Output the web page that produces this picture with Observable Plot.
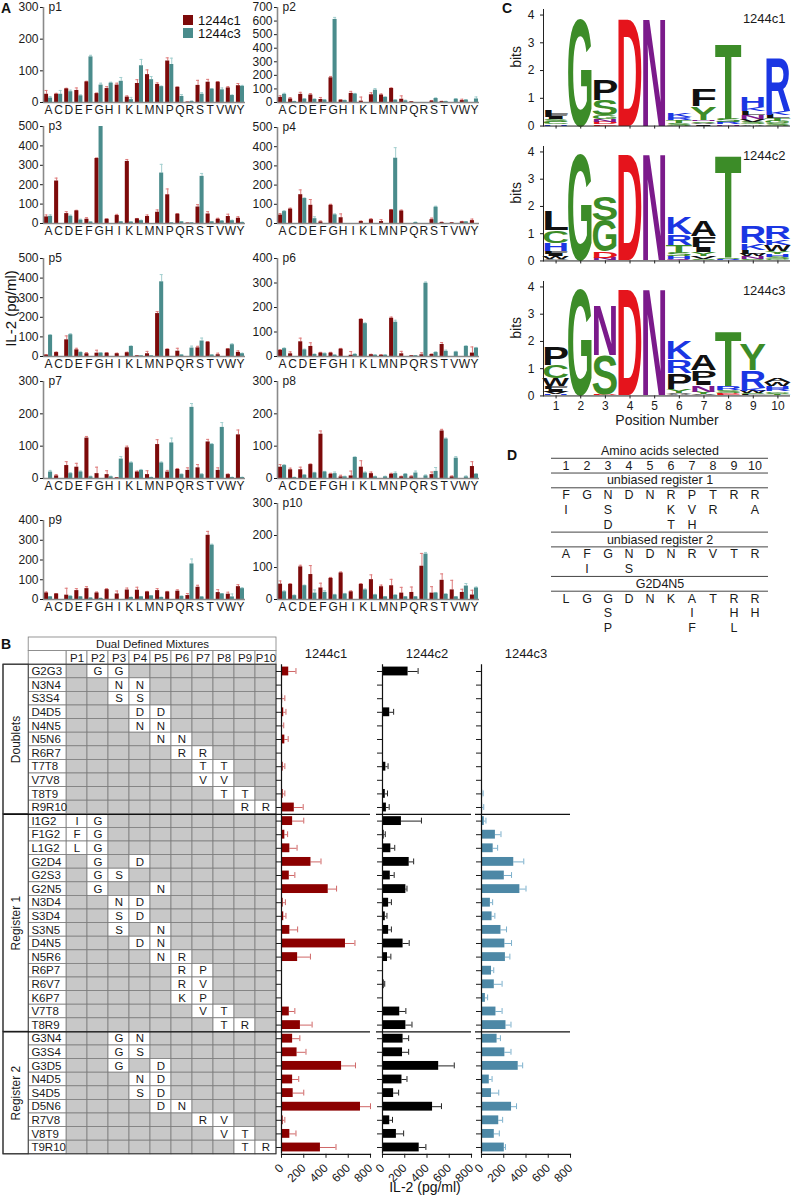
<!DOCTYPE html>
<html>
<head>
<meta charset="utf-8">
<script src="https://cdn.jsdelivr.net/npm/d3@7"></script>
<script src="https://cdn.jsdelivr.net/npm/@observablehq/plot@0.6"></script>
<style>
html,body{margin:0;padding:0;background:#fff;}
#root{position:relative;width:792px;height:1200px;overflow:hidden;font-family:"Liberation Sans",Arial,sans-serif;color:#111;}
#root svg{position:absolute;max-width:none;overflow:visible;}
.lbl{position:absolute;white-space:nowrap;line-height:1;}
</style>
</head>
<body>
<div id="root"></div>
<script>
// ================= DATA =================
// Panel A: IL-2 (pg/ml) per amino acid at each position p1..p10
const aminoAcids = ["A","C","D","E","F","G","H","I","K","L","M","N","P","Q","R","S","T","V","W","Y"];
const panelNames = ["p1","p2","p3","p4","p5","p6","p7","p8","p9","p10"];
const panelMax = [300,700,500,500,500,400,300,300,400,300];
const c1Values = [
  [26,26,43,38,65,28,44,55,17,60,88,57,131,48,1,54,64,64,46,53],
  [38,26,60,55,22,182,17,67,10,57,55,103,24,5,0,10,7,0,14,0],
  [34,219,51,65,22,335,22,41,320,24,36,58,148,48,2,85,49,22,36,27],
  [44,75,150,95,8,95,30,0,10,20,10,70,65,0,0,20,5,3,8,15],
  [7,20,85,34,14,17,17,14,19,3,14,219,36,27,0,44,73,9,38,21],
  [25,11,60,41,14,14,30,5,151,7,5,156,11,3,7,8,49,0,0,14],
  [0,8,40,35,125,15,12,2,95,20,12,105,20,28,25,33,113,25,12,135],
  [35,27,27,43,137,13,5,8,35,15,0,13,5,5,0,12,147,5,0,37],
  [33,28,22,45,55,33,50,28,48,47,38,45,38,42,20,62,325,35,27,65],
  [48,47,102,78,36,66,83,24,47,62,40,43,20,22,104,20,60,30,22,14]
];
const c1Errors = [
  [12,3,2,8,2,2,6,6,4,12,15,5,10,1,1,16,9,2,4,7],
  [12,10,15,10,15,10,3,15,30,15,8,5,25,2,0,5,2,0,10,0],
  [10,15,10,3,8,3,2,6,10,2,8,12,30,3,1,12,12,5,12,8],
  [8,5,25,30,5,5,20,0,3,5,10,3,5,0,0,8,2,2,3,8],
  [2,3,20,8,6,15,2,3,3,1,12,10,3,15,0,8,3,8,2,8],
  [3,8,15,15,3,3,3,15,3,2,2,5,10,1,8,2,8,0,0,25],
  [0,4,12,12,5,20,12,1,5,3,12,15,5,3,8,10,8,8,2,15],
  [8,5,8,2,10,3,5,15,20,5,0,3,2,3,0,8,5,3,0,15],
  [5,2,35,10,10,5,5,15,10,15,3,10,3,7,10,10,20,15,10,10],
  [10,3,5,28,15,3,3,3,3,15,5,20,18,17,40,20,20,30,10,15]
];
const c3Values = [
  [14,26,34,21,144,55,61,67,9,116,72,50,120,19,3,26,42,40,22,51],
  [60,7,24,22,17,612,14,62,0,91,38,17,12,0,0,29,7,24,17,26],
  [37,0,37,17,7,500,0,8,7,14,0,260,3,8,3,243,8,12,14,5],
  [62,0,130,25,0,45,0,0,0,0,0,340,0,5,0,85,0,0,8,0],
  [108,0,111,20,0,17,0,0,51,3,3,381,0,7,43,79,7,0,60,14],
  [32,0,27,8,11,5,0,8,134,5,5,140,0,3,299,16,21,18,41,34],
  [20,0,15,20,5,0,5,60,48,25,3,48,110,12,220,12,105,158,3,3],
  [40,3,10,17,20,15,5,65,17,5,5,15,13,17,8,22,122,63,5,13],
  [13,0,15,13,7,5,0,0,10,13,18,10,0,15,180,12,275,28,13,55],
  [24,12,43,20,22,14,17,0,30,14,8,13,8,8,142,20,16,8,42,36]
];
const c3Errors = [
  [5,12,5,3,5,6,3,12,7,20,10,2,20,6,2,5,2,6,2,3],
  [8,2,5,5,5,15,3,5,0,12,3,3,5,0,0,5,2,5,5,15],
  [8,0,6,5,2,0,0,2,2,3,0,45,1,2,1,15,2,3,3,2],
  [5,0,3,10,0,5,0,0,0,0,0,55,0,2,0,5,0,0,2,0],
  [3,0,5,3,0,2,0,0,3,1,1,37,0,2,10,15,2,0,5,3],
  [3,0,3,2,3,2,0,3,3,2,2,8,0,1,5,3,5,3,3,3],
  [5,0,3,3,2,0,2,8,3,3,1,3,15,2,12,3,3,15,1,1],
  [3,1,2,2,2,5,2,2,3,2,2,5,2,6,3,12,3,5,3,2],
  [2,0,5,2,2,2,0,0,2,2,2,2,0,3,25,3,5,2,15,5],
  [3,2,2,10,5,2,2,0,3,2,1,2,1,1,5,2,2,1,8,3]
];
const legendA = ["1244c1","1244c3"];

// Panel B: dual defined mixtures
const doublets = ["G2G3","N3N4","S3S4","D4D5","N4N5","N5N6","R6R7","T7T8","V7V8","T8T9","R9R10"];
const register1 = ["I1G2","F1G2","L1G2","G2D4","G2S3","G2N5","N3D4","S3D4","S3N5","D4N5","N5R6","R6P7","R6V7","K6P7","V7T8","T8R9"];
const register2 = ["G3N4","G3S4","G3D5","N4D5","S4D5","D5N6","R7V8","V8T9","T9R10"];
const groupNames = ["Doublets","Register 1","Register 2"];
const cloneNames = ["1244c1","1244c2","1244c3"];
const il2c1 =    [65,0,10,20,5,30,2,15,0,15,115, 100,30,75,265,70,420,15,20,75,575,145,0,0,0,70,170, 100,140,540,100,105,710,15,75,350];
const il2c1Err = [65,0,20,20,15,30,0,15,0,15,80, 100,25,65,90,50,75,20,20,70,85,115,0,0,0,50,105, 65,80,125,55,95,90,15,55,140];
const il2c2 =    [230,0,0,65,0,5,0,30,0,25,35, 170,15,75,240,70,210,55,25,55,185,45,5,15,0,155,210, 185,180,505,175,100,450,65,125,330];
const il2c2Err = [90,0,0,35,0,0,0,20,0,20,25, 180,10,35,40,35,10,25,15,25,55,30,0,5,0,55,55, 50,55,140,45,45,80,25,65,60];
const il2c3 =    [2,5,2,3,2,2,0,5,0,10,10, 25,125,105,290,205,345,80,95,175,210,215,90,115,35,130,220, 140,210,330,70,90,270,155,115,205];
const il2c3Err = [0,0,0,0,0,0,0,0,0,5,10, 15,50,40,90,65,55,20,25,50,60,40,20,70,20,55,45, 30,55,40,25,65,45,35,45,10];
const bTicks = [0,200,400,600,800];

// Panel C: sequence logos, each column listed bottom -> top as [residue, bits]
const logo1244c1 = [
  [["H",0.06],["C",0.08],["S",0.08],["I",0.1],["F",0.1],["L",0.15]],
  [["G",3.95]],
  [["E",0.05],["D",0.07],["N",0.1],["G",0.15],["S",0.55],["P",0.75]],
  [["D",4.0]],
  [["N",4.0]],
  [["S",0.1],["T",0.1],["R",0.1],["K",0.12]],
  [["I",0.05],["V",0.05],["S",0.05],["N",0.05],["Y",0.5],["F",0.6]],
  [["N",0.05],["R",0.08],["S",0.12],["T",2.78]],
  [["A",0.05],["S",0.08],["V",0.1],["N",0.15],["L",0.15],["K",0.15],["H",0.4]],
  [["S",0.08],["G",0.08],["T",0.1],["L",0.12],["K",0.15],["R",1.95]]
];
const logo1244c2 = [
  [["V",0.05],["W",0.1],["I",0.1],["F",0.1],["H",0.3],["C",0.45],["L",0.75]],
  [["G",3.95]],
  [["N",0.08],["D",0.25],["G",1.15],["S",0.9]],
  [["D",4.0]],
  [["N",4.0]],
  [["Q",0.05],["H",0.1],["S",0.12],["T",0.3],["R",0.4],["K",0.65]],
  [["S",0.05],["V",0.1],["Y",0.15],["I",0.2],["F",0.4],["A",0.6]],
  [["R",0.05],["S",0.05],["T",3.88]],
  [["S",0.05],["N",0.1],["W",0.1],["L",0.15],["K",0.25],["R",0.65]],
  [["G",0.05],["S",0.08],["H",0.1],["Y",0.1],["W",0.25],["K",0.2],["R",0.5]]
];
const logo1244c3 = [
  [["H",0.05],["V",0.08],["I",0.1],["F",0.1],["W",0.3],["C",0.5],["P",0.7]],
  [["G",3.95]],
  [["D",0.05],["S",1.45],["N",1.85]],
  [["D",4.0]],
  [["N",4.0]],
  [["A",0.05],["V",0.05],["Y",0.12],["P",0.6],["R",0.5],["K",0.7]],
  [["V",0.05],["Y",0.08],["N",0.25],["I",0.15],["P",0.4],["A",0.6]],
  [["E",0.05],["D",0.05],["S",0.1],["R",0.15],["T",2.05]],
  [["L",0.05],["S",0.05],["W",0.08],["K",0.1],["R",0.65],["Y",1.0]],
  [["T",0.05],["S",0.05],["G",0.05],["R",0.1],["H",0.1],["W",0.15],["A",0.15]]
];
const logoTitles = ["1244c1","1244c2","1244c3"];

// Panel D: amino acids selected per position
const dPositions = [1,2,3,4,5,6,7,8,9,10];
const dSections = ["unbiased register 1","unbiased register 2","G2D4N5"];
const selectedReg1 = [["F","I"],["G"],["N","S","D"],["D"],["N"],["R","K","T"],["P","V","H"],["T","R"],["R"],["R","A"]];
const selectedReg2 = [["A"],["F","I"],["G"],["N","S"],["D"],["N"],["R"],["V"],["T"],["R"]];
const selectedG2D4N5 = [["L"],["G"],["G","S","P"],["D"],["N"],["K"],["A","I","F"],["T"],["R","H","L"],["R","H"]];

// ================= RENDER =================
const FONT = "Liberation Sans, Arial, Helvetica, sans-serif";
const root = document.getElementById("root");
function put(node, left, top) { node.style.left = left + "px"; node.style.top = top + "px"; root.appendChild(node); return node; }
function label(text, left, top, css) {
  const d = document.createElement("div"); d.className = "lbl"; d.textContent = text;
  Object.assign(d.style, css || {}); d.style.left = left + "px"; d.style.top = top + "px";
  root.appendChild(d); return d;
}
const baseStyle = {fontFamily: FONT, fontSize: "12px", background: "transparent", color: "#1a1a1a", overflow: "visible"};

// ---- Panel A ----
const A_C1 = "#7d0a0a", A_C1E = "#de7b7b", A_C3 = "#4a8c8c", A_C3E = "#a3cfcf";
const colLeft = [0, 234];
const frameA = [[7,102],[7,102],[126,223],[127,223],[258,356],[258,356],[381,478],[381,478],[520,599],[503,599]];
panelNames.forEach((name, i) => {
  const data = aminoAcids.map((aa, j) => ({aa, c1: c1Values[i][j], e1: c1Errors[i][j], c3: c3Values[i][j], e3: c3Errors[i][j]}));
  const [ft, fb] = frameA[i];
  const mt = 10, mb = 18, ml = 43, mr = 5, W = 250;
  const bw = (W - ml - mr) / aminoAcids.length;
  const svg = Plot.plot({
    width: W, height: (fb - ft) + mt + mb, marginTop: mt, marginBottom: mb, marginLeft: ml, marginRight: mr,
    style: baseStyle,
    x: {type: "band", domain: aminoAcids, padding: 0, round: false, label: null, tickSize: 0, tickPadding: 3},
    y: {domain: [0, panelMax[i]], ticks: d3.range(0, panelMax[i] + 1, 100), label: null, tickSize: 3, tickPadding: 2},
    marks: [
      Plot.ruleX(data.filter(d => d.e1 > 0), {x: "aa", y1: "c1", y2: d => d.c1 + d.e1, dx: -2, stroke: A_C1E}),
      Plot.tickY(data.filter(d => d.e1 > 0), {x: "aa", y: d => d.c1 + d.e1, insetLeft: 1.5, insetRight: 5.6, stroke: A_C1E}),
      Plot.ruleX(data.filter(d => d.e3 > 0), {x: "aa", y1: "c3", y2: d => d.c3 + d.e3, dx: 2, stroke: A_C3E}),
      Plot.tickY(data.filter(d => d.e3 > 0), {x: "aa", y: d => d.c3 + d.e3, insetLeft: 5.6, insetRight: 1.5, stroke: A_C3E}),
      Plot.barY(data, {x: "aa", y: "c1", fill: A_C1, insetLeft: 1, insetRight: 5.05}),
      Plot.barY(data, {x: "aa", y: "c3", fill: A_C3, insetLeft: 5.05, insetRight: 1}),
      Plot.ruleY([0], {stroke: "#8a8a8a", strokeWidth: 1.4}),
      Plot.ruleX([aminoAcids[0]], {dx: -bw / 2, y1: 0, y2: panelMax[i], stroke: "#8a8a8a", strokeWidth: 1.6}),
      Plot.text([name], {frameAnchor: "top-left", dx: 5, dy: -5, fontSize: 12})
    ]
  });
  put(svg, colLeft[i % 2], ft - mt);
});
// legend of panel A
[A_C1, A_C3].forEach((c, k) => {
  const sw = document.createElement("div");
  Object.assign(sw.style, {position: "absolute", width: "10px", height: "10px", background: c, left: "183px", top: (15 + 13 * k) + "px"});
  root.appendChild(sw);
  label(legendA[k], 198, 14 + 13 * k, {fontSize: "13px"});
});
label("IL-2 (pg/ml)", -45, 301, {fontSize: "15px", width: "110px", textAlign: "center", transform: "rotate(-90deg)"});

// ---- Panel B ----
const rowNames = doublets.concat(register1, register2);
let acc = 0;
const groups = [doublets, register1, register2].map((rows, gi) => { const o = {g: groupNames[gi], start: acc, end: acc + rows.length}; acc += rows.length; return o; });
const rows = rowNames.map((name, r) => ({name, r, defined: Object.fromEntries([...name.matchAll(/([A-Z])(\d+)/g)].map(m => [+m[2], m[1]]))}));
const pos10 = d3.range(1, 11);
const cells = rows.flatMap(row => pos10.map(k => ({r: row.r, k, aa: row.defined[k] || null})));
const ROW0 = 637, STEP = 13.6, tableTop = 630;
const grid = "#7d7d7d";
const tmt = ROW0 - tableTop;
const table = Plot.plot({
  width: 280, height: tmt + (rowNames.length + 2) * STEP + 3, marginLeft: 3, marginRight: 4, marginTop: tmt, marginBottom: 3,
  style: baseStyle,
  x: {domain: [0, 13], axis: null},
  y: {domain: [-2, rowNames.length], reverse: true, axis: null},
  marks: [
    Plot.rect(cells, {x1: d => d.k + 2, x2: d => d.k + 3, y1: "r", y2: d => d.r + 1, fill: d => d.aa ? "#ffffff" : "#c8c8c8", stroke: grid, strokeWidth: 0.8}),
    Plot.text(cells.filter(d => d.aa), {x: d => d.k + 2.5, y: d => d.r + 0.5, text: "aa", fontSize: 11.5}),
    Plot.rect(rows, {x1: 1.2, x2: 3, y1: "r", y2: d => d.r + 1, fill: "#ffffff", stroke: grid, strokeWidth: 0.8}),
    Plot.text(rows, {x: 1.33, y: d => d.r + 0.5, text: "name", textAnchor: "start", fontSize: 11.5}),
    Plot.rect(pos10, {x1: k => k + 2, x2: k => k + 3, y1: -1, y2: 0, fill: "#ffffff", stroke: grid, strokeWidth: 0.8}),
    Plot.text(pos10, {x: k => k + 2.5, y: -0.5, text: k => "P" + k, fontSize: 11.5}),
    Plot.rect([0], {x1: 1.2, x2: 3, y1: -1, y2: 0, fill: "#ffffff", stroke: grid, strokeWidth: 0.8}),
    Plot.rect([0], {x1: 1.2, x2: 13, y1: -2, y2: -1, fill: "#ffffff", stroke: grid, strokeWidth: 0.8}),
    Plot.text(["Dual Defined Mixtures"], {x: 7.1, y: -1.5, fontSize: 11.5}),
    Plot.rect(groups, {x1: 0, x2: 1.2, y1: "start", y2: "end", fill: "#ffffff", stroke: "#333", strokeWidth: 1}),
    Plot.text(groups, {x: 0.6, y: d => (d.start + d.end) / 2, text: "g", rotate: -90, fontSize: 12}),
    Plot.ruleY(groups.slice(1).map(g => g.start), {stroke: "#111", strokeWidth: 1.3}),
    Plot.rect([0], {x1: 0, x2: 13, y1: 0, y2: rowNames.length, fill: "none", stroke: "#333", strokeWidth: 1})
  ]
});
put(table, 0, tableTop);

const bSpecs = [
  {values: il2c1, errors: il2c1Err, fill: "#8b0000", err: "#cf6666", axisX: 281},
  {values: il2c2, errors: il2c2Err, fill: "#000000", err: "#222222", axisX: 382},
  {values: il2c3, errors: il2c3Err, fill: "#4d88a6", err: "#7bb0cc", axisX: 481}
];
const bmt = ROW0 + 2 * STEP - tableTop, bmb = 36;
bSpecs.forEach((s, ci) => {
  const data = rowNames.map((name, r) => ({name, v: s.values[r], e: s.errors[r]}));
  const withErr = data.filter(d => d.e > 0);
  const svg = Plot.plot({
    width: 6 + 89 + 12, height: bmt + rowNames.length * STEP + bmb, marginLeft: 6, marginRight: 12, marginTop: bmt, marginBottom: bmb,
    style: baseStyle,
    x: {domain: [0, 800], ticks: bTicks, tickRotate: -45, tickSize: 4, label: null},
    y: {type: "band", domain: rowNames, paddingInner: 0.35, paddingOuter: 0.175, round: false, tickSize: 5, tickFormat: () => "", label: null},
    marks: [
      Plot.ruleY(withErr, {y: "name", x1: "v", x2: d => d.v + d.e, stroke: s.err}),
      Plot.tickX(withErr, {y: "name", x: d => d.v + d.e, insetTop: 1.5, insetBottom: 1.5, stroke: s.err}),
      Plot.barX(data, {y: "name", x: "v", fill: s.fill}),
      Plot.ruleX([0], {stroke: "#111", strokeWidth: 1.2}),
      Plot.frame({anchor: "bottom", stroke: "#111", strokeWidth: 1.2}),
      Plot.ruleY(groups.slice(1).map(g => rowNames[g.start]), {dy: -STEP / 2, insetLeft: -6, stroke: "#111", strokeWidth: 1.3}),
      Plot.text([cloneNames[ci]], {frameAnchor: "top", dy: -11, lineAnchor: "middle", fontSize: 13})
    ]
  });
  put(svg, s.axisX - 6, tableTop);
});
label("IL-2 (pg/ml)", 380, 1180, {fontSize: "14px", width: "90px", textAlign: "center"});

// ---- Panel C: logos ----
const GREEN = "#3c8c28", RED = "#e5141c", PURPLE = "#7b1a8b", BLUE = "#1b36e3", BLACK = "#111111";
const logoColors = {G: GREEN, S: GREEN, T: GREEN, Y: GREEN, C: GREEN, N: PURPLE, Q: PURPLE, K: BLUE, R: BLUE, H: BLUE, D: RED, E: RED,
  A: BLACK, V: BLACK, L: BLACK, I: BLACK, P: BLACK, W: BLACK, F: BLACK, M: BLACK};
const logoFrames = [[15, 126], [151, 260], [286, 395]];
[logo1244c1, logo1244c2, logo1244c3].forEach((stacks, li) => {
  const last = li === 2;
  const [fourY, zeroY] = logoFrames[li];
  const ppb = (zeroY - fourY) / 4, yTop = 4.2;
  const frameTop = zeroY - yTop * ppb;
  const mt = 6, mb = last ? 36 : 6, ml = 36, mr = 2;
  const letters = [];
  stacks.forEach((col, pi) => { let y0 = 0; col.forEach(([aa, h]) => { letters.push({pos: pi + 1, aa, y0, y1: y0 + h}); y0 += h; }); });
  const fig = Plot.plot({
    width: 792 - 507, height: mt + (zeroY - frameTop) + mb, marginLeft: ml, marginRight: mr, marginTop: mt, marginBottom: mb,
    style: baseStyle,
    x: {type: "band", domain: d3.range(1, 11), padding: 0.02, round: false, tickSize: 3, tickPadding: 3, tickFormat: last ? (d => String(d)) : (() => ""), label: null},
    y: {domain: [0, yTop], ticks: [0, 1, 2, 3, 4], tickFormat: d => String(d), tickSize: 3, label: null},
    marks: [
      Plot.text(letters, {x: "pos", y: "y0", text: "aa", fill: d => logoColors[d.aa], fontWeight: "bold", lineAnchor: "bottom", fontFamily: FONT}),
      Plot.ruleY([0], {stroke: "#222"}),
      Plot.frame({anchor: "left", stroke: "#222"}),
      Plot.text([logoTitles[li]], {frameAnchor: "top-right", dx: -5, dy: 4, fontSize: 13}),
      Plot.text(["bits"], {frameAnchor: "left", dx: -27, rotate: -90, fontSize: 14}),
      last ? Plot.text(["Position Number"], {frameAnchor: "bottom", dy: 29, fontSize: 14}) : null
    ]
  });
  put(fig, 507, frameTop - mt);
  const xs = fig.scale("x"), ys = fig.scale("y");
  const g = fig.querySelector('g[aria-label="text"]');
  if (g) {
    g.removeAttribute("transform");
    const texts = g.querySelectorAll("text");
    texts.forEach((t, j) => {
      const d = letters[j];
      if (!d) return;
      t.removeAttribute("transform"); t.removeAttribute("dy");
      t.setAttribute("x", 0); t.setAttribute("y", 0);
      t.setAttribute("font-size", 100); t.setAttribute("text-anchor", "middle");
      const bb = t.getBBox();
      const cx = xs.apply(d.pos) + xs.bandwidth / 2;
      const yb = ys.apply(d.y0), yt = ys.apply(d.y1);
      const sx = (xs.bandwidth * 1.0) / Math.max(1, bb.width * 0.9);
      const sy = Math.max(0.001, (yb - yt)) / 72;
      t.setAttribute("transform", `translate(${cx},${yb}) scale(${sx},${sy})`);
    });
  }
});

// ---- Panel D: table ----
const dItems = [];
[selectedReg1, selectedReg2, selectedG2D4N5].forEach((sel, si) => {
  const base = [3, 7, 10][si];
  sel.forEach((list, pi) => list.forEach((aa, j) => dItems.push({pos: dPositions[pi], row: base + j, aa})));
});
const dTitles = [{t: "Amino acids selected", row: 0}].concat(dSections.map((t, i) => ({t, row: [2, 6, 9][i]})));
const dTop = 443, dStep = 14.77;
const dTable = Plot.plot({
  width: 240, height: 3 + 13 * dStep + 3, marginLeft: 11, marginRight: 12, marginTop: 3, marginBottom: 3,
  style: baseStyle,
  x: {type: "band", domain: dPositions, padding: 0, axis: null},
  y: {domain: [-0.5, 12.5], reverse: true, axis: null},
  marks: [
    Plot.ruleY([0.5, 1.5, 2.5, 5.5, 6.5, 8.5, 9.5], {stroke: "#444", strokeWidth: 1}),
    Plot.text(dTitles, {y: "row", text: "t", frameAnchor: "middle", fontSize: 12.5}),
    Plot.text(dPositions, {x: d => d, y: 1, text: d => String(d), fontSize: 12.5}),
    Plot.text(dItems, {x: "pos", y: "row", text: "aa", fontSize: 12.5})
  ]
});
put(dTable, 540, dTop - 3);

// ---- panel letters ----
label("A", 1, 1, {fontSize: "14px", fontWeight: "bold"});
label("B", 1, 637, {fontSize: "14px", fontWeight: "bold"});
label("C", 502, 1, {fontSize: "14px", fontWeight: "bold"});
label("D", 507, 448, {fontSize: "14px", fontWeight: "bold"});
</script>
</body>
</html>
